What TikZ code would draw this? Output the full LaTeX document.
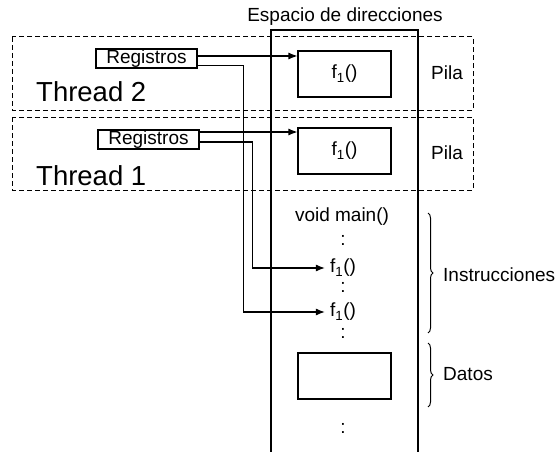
\documentclass[tikz,border=0pt]{standalone}
\usepackage{fontspec}
\setmainfont{Liberation Sans}
\usetikzlibrary{arrows.meta,decorations.pathreplacing}
\begin{document}
\begin{tikzpicture}[x=1pt,y=-1pt,
  txt/.style={font=\fontsize{19}{22}\selectfont, inner sep=0pt},
  big/.style={font=\fontsize{27.5}{30}\selectfont, inner sep=0pt},
  box/.style={draw, line width=1.1pt, inner sep=0pt},
  dbox/.style={draw, line width=1pt, dash pattern=on 5pt off 3pt},
  arr/.style={-{Latex[length=9pt,width=7pt]}, line width=1.1pt},
  brc/.style={decorate, decoration={brace, amplitude=5pt}, line width=1pt}]
\useasboundingbox (0,0) rectangle (557,452);
% address space column
\draw[line width=1.1pt] (271,452) -- (271,30) -- (418,30) -- (418,452);
\node[txt, anchor=base] (esp) at (345,21.7) {Espacio de direcciones};
% thread boxes
\draw[dbox] (12,37) rectangle (473,110);
\draw[dbox] (12,117) rectangle (473,190);
\node[big, anchor=base west] (t2) at (36,102) {Thread 2};
\node[big, anchor=base west] (t1) at (36,185) {Thread 1};
% stacks
\node[box, txt, minimum width=93pt, minimum height=46pt] (s2) at (344.5,74) {f\textsubscript{1}()};
\node[box, txt, minimum width=93pt, minimum height=46pt] (s1) at (344.5,151) {f\textsubscript{1}()};
\node[txt] (p2) at (447,73) {Pila};
\node[txt] (p1) at (447,153) {Pila};
% registers
\node[box, txt, minimum width=101pt, minimum height=19pt] (r2) at (146.5,58.5) {Registros};
\node[box, txt, minimum width=101pt, minimum height=19pt] (r1) at (148.5,139.5) {Registros};
% code
\node[txt] (main) at (342,217) {void main()};
\node[txt] (d1) at (343,240) {:};
\node[txt, inner xsep=5pt] (fa) at (343,268) {f\textsubscript{1}()};
\node[txt] (d2) at (343,287) {:};
\node[txt, inner xsep=5pt] (fb) at (343,312) {f\textsubscript{1}()};
\node[txt] (d3) at (343,333) {:};
\node[box, minimum width=93pt, minimum height=46pt] (datos) at (344.5,376) {};
\node[txt] (d4) at (343,428) {:};
% braces
\draw[brc] (428,213) -- (428,333) coordinate[midway] (bi);
\draw[brc] (428,343) -- (428,407) coordinate[midway] (bd);
\node[txt, anchor=west] (ins) at (443,275) {Instrucciones};
\node[txt, anchor=west] (dat) at (443,374) {Datos};
% connectors
\draw[arr] ([yshift=2.5pt]r2.east) coordinate (a2) -- (a2 -| s2.west);
\draw[arr] ([yshift=7.5pt]r1.east) coordinate (a1) -- (a1 -| s1.west);
\draw[arr] ([yshift=-7pt]r2.east) -- ++(46,0) |- (fb.west);
\draw[arr] ([yshift=-2.5pt]r1.east) -- ++(53,0) |- (fa.west);
\end{tikzpicture}
\end{document}
